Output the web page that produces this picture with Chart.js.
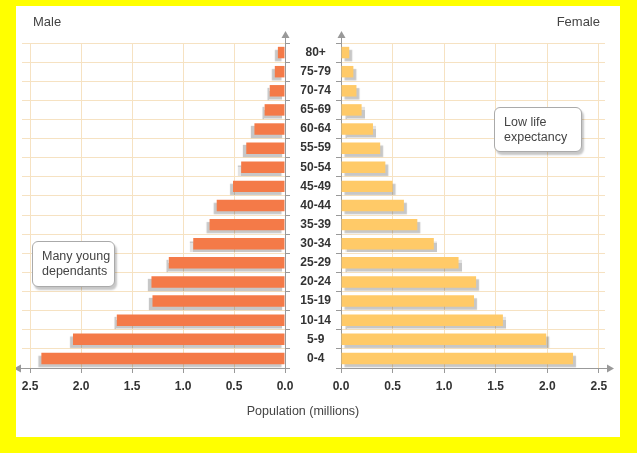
<!DOCTYPE html>
<html lang="en">
<head>
    <meta charset="UTF-8">
    <title>Population Pyramid</title>
    <script src="https://cdn.jsdelivr.net/npm/chart.js"></script>
    <style>
        * { margin: 0; padding: 0; box-sizing: border-box; }
        body {
            width: 637px; height: 453px; overflow: hidden;
            background: #ffff00;
            font-family: 'Liberation Sans', Arial, sans-serif;
            position: relative;
        }
        .panel { position: absolute; left: 16px; top: 6px; width: 604px; height: 431px; background: #fff; }
        canvas { position: absolute; }
        #maleChart { left: 16px; top: 6px; }
        #femaleChart { left: 290px; top: 6px; }
        .side { position: absolute; top: 14px; font-size: 13px; color: #444; }
        .axis-title { position: absolute; top: 404px; left: 0; width: 606px; text-align: center; font-size: 12.5px; color: #444; }
        .note {
            position: absolute; background: #fff; border: 1px solid #aaa; border-radius: 6px;
            box-shadow: 2px 3px 2px rgba(0,0,0,0.22);
            font-size: 12.5px; line-height: 15px; color: #444; padding: 7px 6px 7px 9px;
            white-space: nowrap;
        }
    </style>
</head>
<body>
    <div class="panel"></div>
    <canvas id="maleChart" width="284" height="431"></canvas>
    <canvas id="femaleChart" width="330" height="431"></canvas>
    <div class="side" style="left:33px;">Male</div>
    <div class="side" style="right:37px;">Female</div>
    <div class="axis-title">Population (millions)</div>
    <div class="note" style="left:32px; top:241px; width:83px; height:46px;">Many young<br>dependants</div>
    <div class="note" style="left:494px; top:107px; width:88px; height:45px;">Low life<br>expectancy</div>

    <script>
        const ages = ['80+', '75-79', '70-74', '65-69', '60-64', '55-59', '50-54', '45-49', '40-44',
                      '35-39', '30-34', '25-29', '20-24', '15-19', '10-14', '5-9', '0-4'];
        const male = [0.07, 0.10, 0.15, 0.20, 0.30, 0.38, 0.43, 0.51, 0.67,
                      0.74, 0.90, 1.14, 1.31, 1.30, 1.65, 2.08, 2.39];
        const female = [0.08, 0.12, 0.15, 0.20, 0.31, 0.38, 0.43, 0.50, 0.61,
                        0.74, 0.90, 1.14, 1.31, 1.29, 1.57, 1.99, 2.25];
        const popTicks = [0, 0.5, 1.0, 1.5, 2.0, 2.5];

        const gridColor = '#f6e2c2';
        const axisColor = '#999';
        const tickFont = { family: "'Liberation Sans', Arial, sans-serif", size: 12, weight: 'bold' };

        // grey drop shadow under the bars
        function shadowPlugin(dx) {
            return {
                id: 'barShadow',
                beforeDatasetDraw(chart) {
                    const ctx = chart.ctx;
                    ctx.save();
                    ctx.shadowColor = 'rgba(0,0,0,0.22)';
                    ctx.shadowOffsetX = dx;
                    ctx.shadowOffsetY = 3;
                    ctx.shadowBlur = 1;
                },
                afterDatasetDraw(chart) { chart.ctx.restore(); }
            };
        }

        // arrow heads on the axes
        function arrowPlugin(side) {
            return {
                id: 'arrows',
                afterDraw(chart) {
                    const ctx = chart.ctx, a = chart.chartArea;
                    const ax = side === 'left' ? a.right : a.left;
                    ctx.save();
                    ctx.strokeStyle = axisColor;
                    ctx.fillStyle = axisColor;
                    ctx.lineWidth = 1;
                    // up arrow
                    ctx.beginPath();
                    ctx.moveTo(ax + 0.5, a.top); ctx.lineTo(ax + 0.5, a.top - 6); ctx.stroke();
                    ctx.beginPath();
                    ctx.moveTo(ax + 0.5, a.top - 12); ctx.lineTo(ax - 3.5, a.top - 5); ctx.lineTo(ax + 4.5, a.top - 5);
                    ctx.fill();
                    // horizontal arrow
                    const y = a.bottom + 0.5;
                    ctx.beginPath();
                    if (side === 'left') {
                        ctx.moveTo(a.left, y); ctx.lineTo(a.left - 3, y); ctx.stroke();
                        ctx.beginPath();
                        ctx.moveTo(a.left - 8, y); ctx.lineTo(a.left - 1, y - 4); ctx.lineTo(a.left - 1, y + 4);
                    } else {
                        ctx.moveTo(a.right, y); ctx.lineTo(a.right + 3, y); ctx.stroke();
                        ctx.beginPath();
                        ctx.moveTo(a.right + 9, y); ctx.lineTo(a.right + 2, y - 4); ctx.lineTo(a.right + 2, y + 4);
                    }
                    ctx.fill();
                    ctx.restore();
                }
            };
        }

        function xScale(reverse, max) {
            return {
                type: 'linear', min: 0, max: max, reverse: reverse,
                afterBuildTicks: s => { s.ticks = popTicks.map(v => ({ value: v })); },
                afterFit: s => { s.height = 69; },
                grid: { color: gridColor, tickColor: axisColor, tickLength: 5 },
                border: { color: axisColor },
                ticks: { color: '#333', font: tickFont, padding: 6, maxRotation: 0,
                         callback: v => v.toFixed(1) }
            };
        }

        // Male side
        new Chart(document.getElementById('maleChart'), {
            type: 'bar',
            data: {
                labels: ages,
                datasets: [{ data: male, backgroundColor: '#f47a48', barPercentage: 0.6, categoryPercentage: 1 }]
            },
            options: {
                indexAxis: 'y', responsive: false, animation: false,
                layout: { padding: { left: 6, right: 15, top: 37, bottom: 0 } },
                plugins: { legend: { display: false }, tooltip: { enabled: false } },
                scales: {
                    x: xScale(true, 2.58),
                    y: {
                        position: 'right',
                        afterFit: s => { s.width = 0; },
                        grid: { color: gridColor, tickColor: axisColor, tickLength: 5, offset: true },
                        border: { color: axisColor },
                        ticks: { display: false }
                    }
                }
            },
            plugins: [shadowPlugin(-3), arrowPlugin('left')]
        });

        // Female side, age labels on its left axis
        new Chart(document.getElementById('femaleChart'), {
            type: 'bar',
            data: {
                labels: ages,
                datasets: [{ data: female, backgroundColor: '#ffca68', barPercentage: 0.6, categoryPercentage: 1 }]
            },
            options: {
                indexAxis: 'y', responsive: false, animation: false,
                layout: { padding: { left: 0, right: 15, top: 37, bottom: 0 } },
                plugins: { legend: { display: false }, tooltip: { enabled: false } },
                scales: {
                    x: xScale(false, 2.56),
                    y: {
                        position: 'left',
                        afterFit: s => { s.width = 51; },
                        grid: { color: gridColor, tickColor: axisColor, tickLength: 5, offset: true },
                        border: { color: axisColor },
                        ticks: { color: '#333', font: tickFont, padding: 5, crossAlign: 'center', autoSkip: false }
                    }
                }
            },
            plugins: [shadowPlugin(3), arrowPlugin('right')]
        });
    </script>
</body>
</html>
